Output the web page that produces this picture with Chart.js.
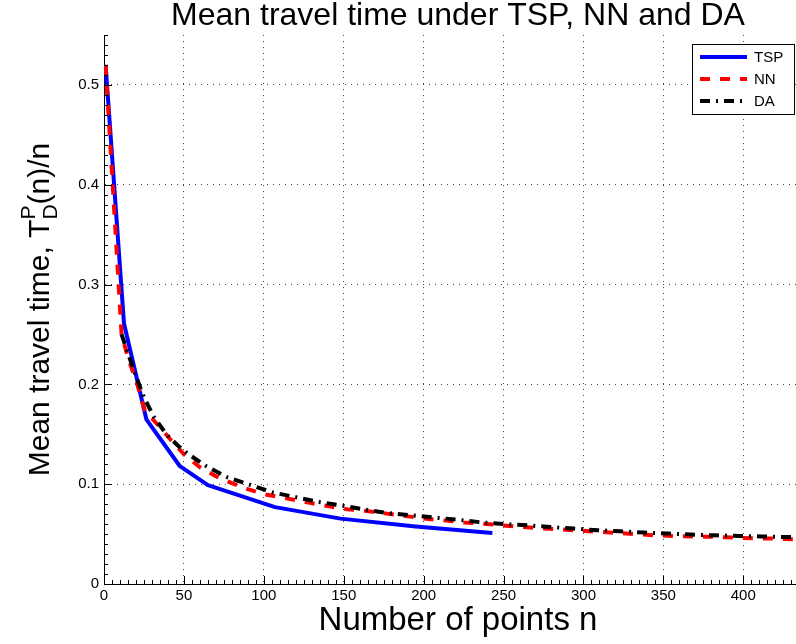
<!DOCTYPE html>
<html>
<head>
<meta charset="utf-8">
<script src="https://cdn.jsdelivr.net/npm/chart.js@4.4.0/dist/chart.umd.min.js"></script>
<style>
  html, body { margin: 0; padding: 0; background: #fff; overflow: hidden; }
  #wrap { width: 796px; height: 644px; overflow: hidden; }
  canvas { display: block; }
</style>
</head>
<body>
<div id="wrap"><canvas id="chart" width="812" height="644"></canvas></div>
<script>
// values
const tspN = [1, 12.5, 26.5, 47.5, 65, 107, 148, 195, 243];
const tspTime = [0.520, 0.261, 0.165, 0.118, 0.099, 0.077, 0.0655, 0.0575, 0.051];

const nnN = [1, 11, 15, 21, 25.5, 35, 42, 50, 60, 70, 80, 90, 100, 115, 128, 140, 152, 165, 177, 189,
    200, 212, 225, 237, 249, 262, 273, 285, 297, 310, 321, 334, 345, 358, 369, 382, 394, 406, 418, 431, 443];
const nnTime = [0.52, 0.25, 0.227, 0.199, 0.174, 0.157, 0.144, 0.13, 0.117, 0.108, 0.101, 0.095, 0.09, 0.0855,
    0.0815, 0.078, 0.075, 0.073, 0.0705, 0.068, 0.0657, 0.0638, 0.0617, 0.0605, 0.0588, 0.0572, 0.0558, 0.0548,
    0.0535, 0.0523, 0.0511, 0.0498, 0.0488, 0.0481, 0.0475, 0.0473, 0.0465, 0.0458, 0.0455, 0.0448, 0.0444];

const daN = [11, 18, 25, 31, 39, 46, 52, 64, 77, 92, 106, 120, 134, 148, 163, 177, 192, 206, 220, 236, 250,
    265, 279, 294, 309, 323, 338, 353, 367, 382, 397, 411, 426, 443];
const daTime = [0.25, 0.217, 0.187, 0.168, 0.15, 0.139, 0.131, 0.118, 0.107, 0.099, 0.0915, 0.087, 0.0822,
    0.0789, 0.0746, 0.0712, 0.0689, 0.0666, 0.0646, 0.0618, 0.06, 0.0588, 0.0571, 0.0555, 0.0538, 0.0528,
    0.0515, 0.0505, 0.0495, 0.0488, 0.0481, 0.0477, 0.0471, 0.0466];

const seriesNames = ['TSP', 'NN', 'DA'];
const xMax = 443;
const yMax = 0.55;

const FONT = "'Liberation Sans', Arial, Helvetica, sans-serif";
Chart.defaults.font.family = FONT;
Chart.defaults.color = '#000';

const toPoints = (xs, ys) => xs.map((v, i) => ({ x: v, y: ys[i] }));

// inward ticks, y label with sub/superscript, title and legend, matlab style
const matlabAxes = {
    id: 'matlabAxes',
    afterDraw(chart) {
        const { ctx, chartArea: a, scales: { x, y } } = chart;
        ctx.save();

        ctx.strokeStyle = '#000';
        ctx.lineWidth = 1;
        ctx.beginPath();
        for (let i = 0; i * 5 <= xMax; i++) {
            const px = Math.round(x.getPixelForValue(i * 5)) + 0.5;
            const len = i % 10 === 0 ? 8 : 4;
            ctx.moveTo(px, a.bottom);
            ctx.lineTo(px, a.bottom - len);
        }
        for (let i = 0; i <= 55; i++) {
            const py = Math.round(y.getPixelForValue(i / 100)) + 0.5;
            const len = i % 10 === 0 ? 8 : 4;
            ctx.moveTo(a.left, py);
            ctx.lineTo(a.left + len, py);
        }
        ctx.stroke();

        // title
        ctx.fillStyle = '#000';
        ctx.font = '32px ' + FONT;
        ctx.textAlign = 'center';
        ctx.textBaseline = 'alphabetic';
        ctx.fillText('Mean travel time under TSP, NN and DA', (a.left + a.right) / 2, 25);

        // y label
        const big = '30px ' + FONT;
        const small = '21px ' + FONT;
        const head = 'Mean travel time, T';
        const tail = '(n)/n';
        ctx.font = big;
        const wHead = ctx.measureText(head).width;
        const wTail = ctx.measureText(tail).width;
        ctx.font = small;
        const wScript = Math.max(ctx.measureText('D').width, ctx.measureText('P').width);
        const total = wHead + wScript + wTail;
        ctx.save();
        ctx.translate(49, (a.top + a.bottom) / 2);
        ctx.rotate(-Math.PI / 2);
        ctx.textAlign = 'left';
        let cx = -total / 2;
        ctx.font = big;
        ctx.fillText(head, cx, 0);
        cx += wHead;
        ctx.font = small;
        ctx.fillText('P', cx, -14);
        ctx.fillText('D', cx, 8);
        cx += wScript;
        ctx.font = big;
        ctx.fillText(tail, cx, 0);
        ctx.restore();

        // legend
        const box = { x: 692.5, y: 44.5, w: 102, h: 70 };
        ctx.fillStyle = '#fff';
        ctx.fillRect(box.x, box.y, box.w, box.h);
        ctx.strokeStyle = '#000';
        ctx.lineWidth = 1;
        ctx.strokeRect(box.x, box.y, box.w, box.h);
        const rows = [57, 79, 101];
        chart.data.datasets.forEach((ds, i) => {
            const ry = rows[i];
            ctx.save();
            ctx.strokeStyle = ds.borderColor;
            ctx.lineWidth = ds.borderWidth;
            ctx.setLineDash(ds.borderDash || []);
            ctx.beginPath();
            ctx.moveTo(700, ry);
            ctx.lineTo(747, ry);
            ctx.stroke();
            ctx.restore();
            ctx.fillStyle = '#000';
            ctx.font = '15px ' + FONT;
            ctx.textAlign = 'left';
            ctx.textBaseline = 'middle';
            ctx.fillText(ds.label, 754, ry + 1);
        });

        ctx.restore();
    }
};

new Chart(document.getElementById('chart'), {
    type: 'line',
    data: {
        datasets: [
            {
                label: seriesNames[0],
                data: toPoints(tspN, tspTime),
                borderColor: '#0000ff',
                borderWidth: 4,
                order: 3
            },
            {
                label: seriesNames[1],
                data: toPoints(nnN, nnTime),
                borderColor: '#ff0000',
                borderWidth: 4,
                borderDash: [10, 10],
                order: 2
            },
            {
                label: seriesNames[2],
                data: toPoints(daN, daTime),
                borderColor: '#000000',
                borderWidth: 4,
                borderDash: [10, 6, 2, 6],
                order: 1
            }
        ]
    },
    options: {
        responsive: false,
        animation: false,
        devicePixelRatio: 1,
        layout: { padding: { top: 35, left: 0, right: 0, bottom: 0 } },
        elements: {
            point: { radius: 0 },
            line: { tension: 0, fill: false, borderCapStyle: 'butt', borderJoinStyle: 'round' }
        },
        plugins: {
            legend: { display: false },
            title: { display: false },
            tooltip: { enabled: false }
        },
        scales: {
            x: {
                type: 'linear',
                min: 0,
                max: xMax,
                afterFit: s => { s.height = 60; },
                grid: { color: '#444', lineWidth: 1, drawTicks: false },
                border: { display: true, color: '#000', width: 1, dash: [1, 5] },
                ticks: {
                    stepSize: 50,
                    includeBounds: false,
                    autoSkip: false,
                    maxRotation: 0,
                    padding: 3,
                    font: { size: 15 },
                    color: '#000'
                },
                title: {
                    display: true,
                    text: 'Number of points n',
                    font: { size: 33 },
                    color: '#000',
                    padding: { top: 0, bottom: 3 }
                }
            },
            y: {
                min: 0,
                max: yMax,
                afterFit: s => { s.width = 104; },
                grid: { color: '#444', lineWidth: 1, drawTicks: false },
                border: { display: true, color: '#000', width: 1, dash: [1, 5] },
                ticks: {
                    stepSize: 0.1,
                    includeBounds: false,
                    padding: 5,
                    font: { size: 15 },
                    color: '#000',
                    callback: v => (v === 0 ? '0' : v.toFixed(1))
                }
            }
        }
    },
    plugins: [matlabAxes]
});
</script>
</body>
</html>
